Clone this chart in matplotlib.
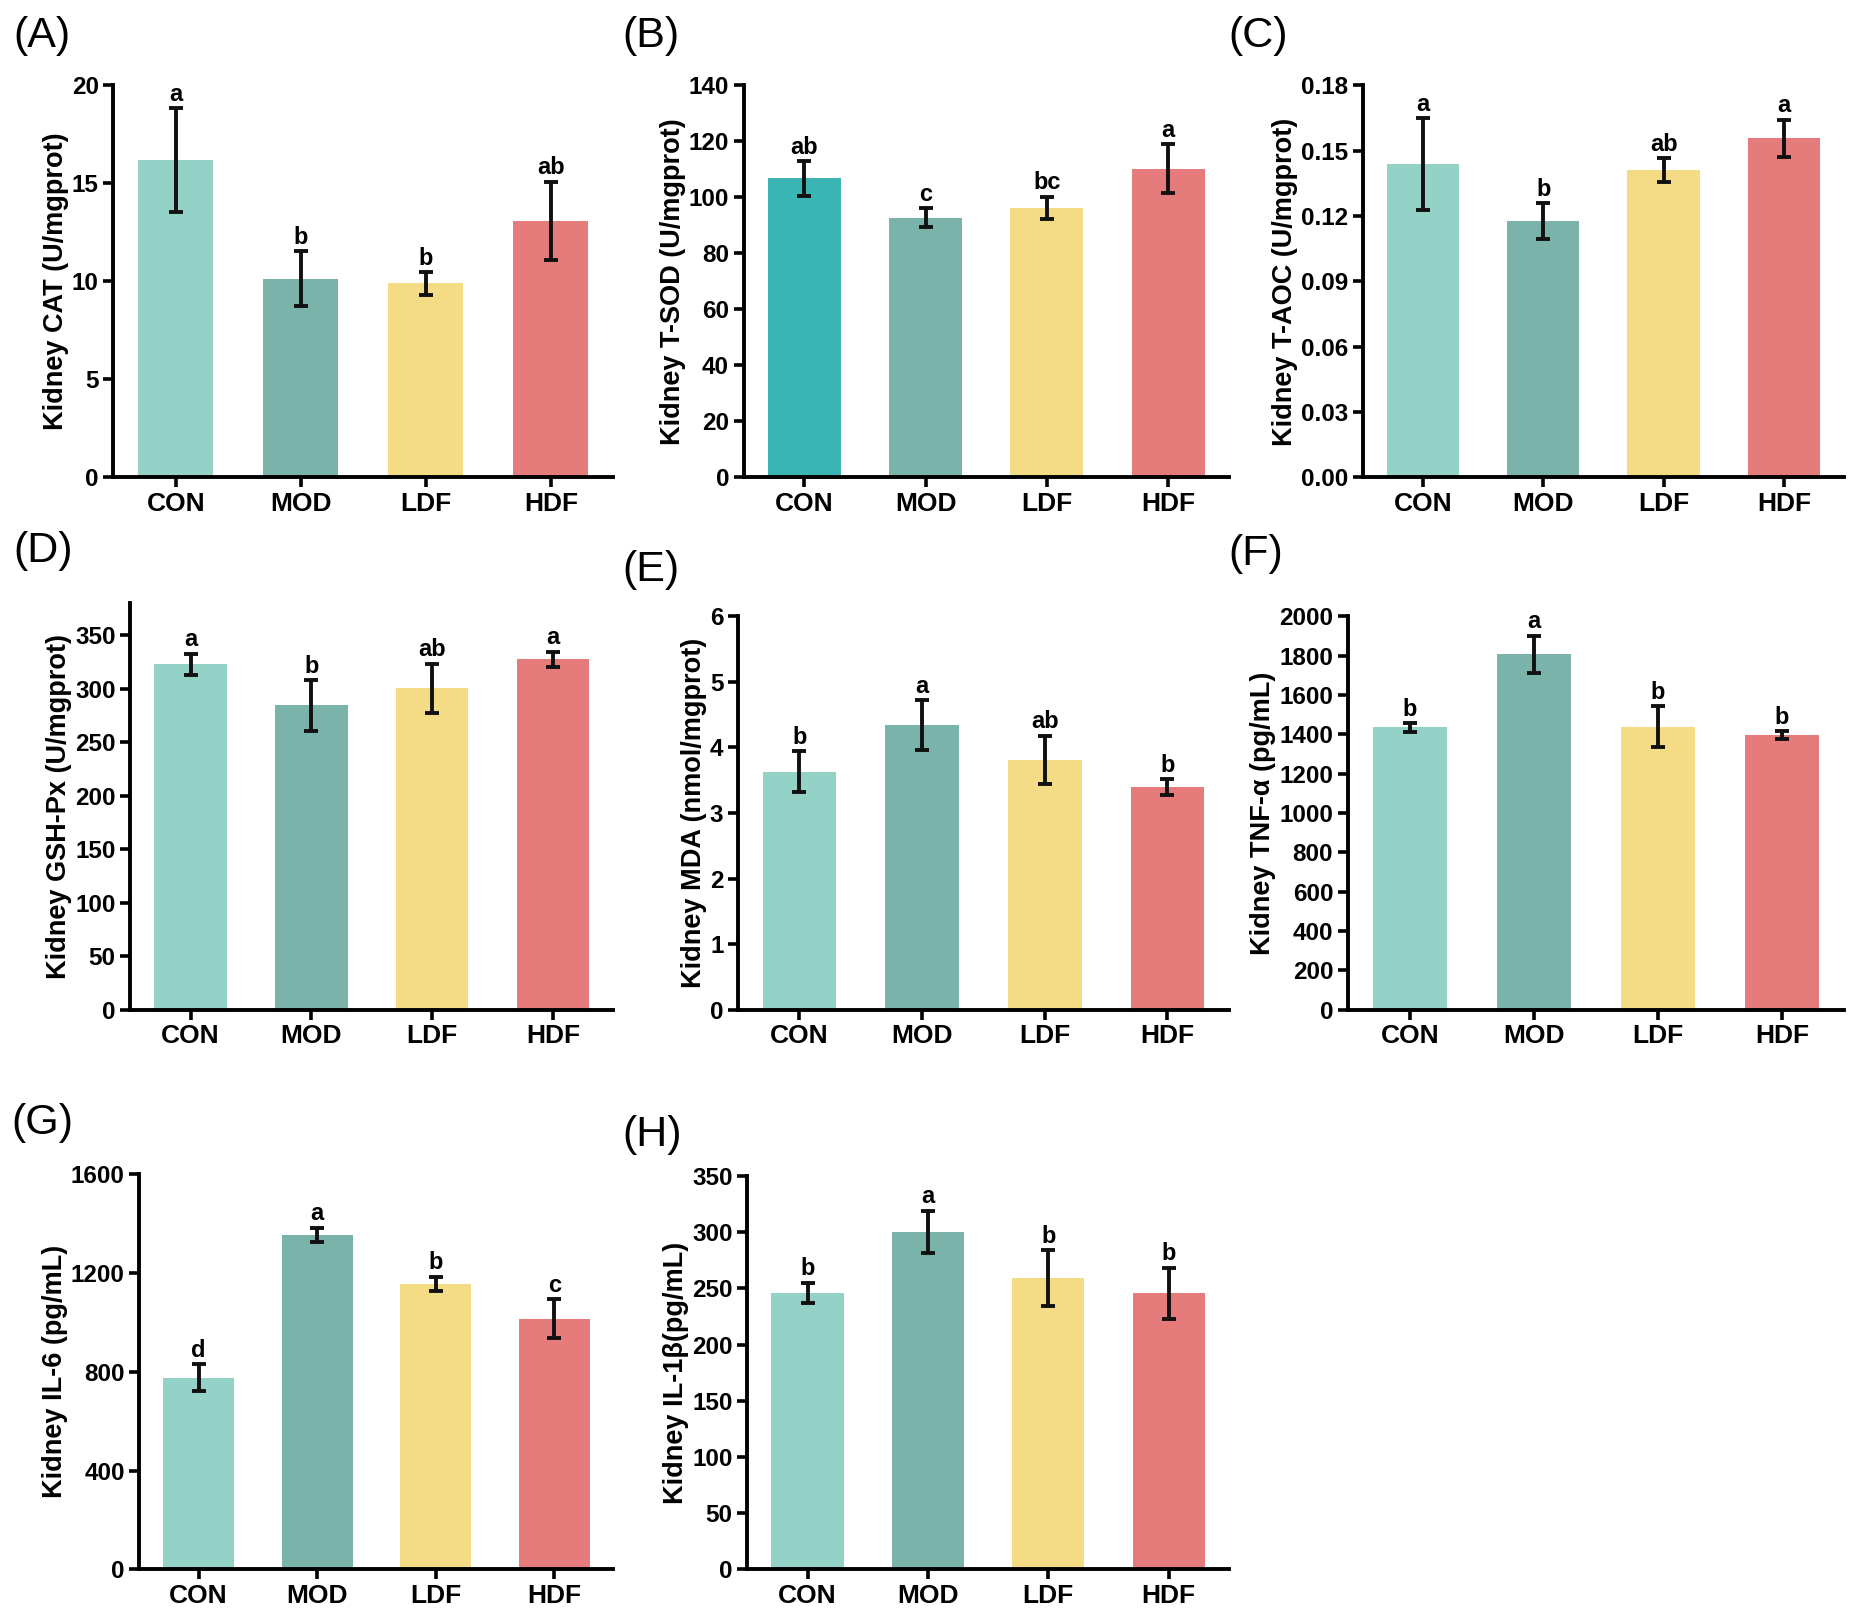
import matplotlib.pyplot as plt
import numpy as np

plt.rcParams['font.family'] = ['Liberation Sans', 'DejaVu Sans']
plt.rcParams['font.weight'] = 'bold'

groups = ['CON', 'MOD', 'LDF', 'HDF']
colors = ['#94D1C7', '#79B3AA', '#F4DC87', '#E57B7B']
colors_b = ['#3BB5B3', '#79B3AA', '#F4DC87', '#E57B7B']

# (A) CAT
cat_mean = [16.2, 10.15, 9.9, 13.1]
cat_err = [2.65, 1.4, 0.58, 2.0]
cat_sig = ['a', 'b', 'b', 'ab']

# (B) T-SOD
sod_mean = [106.8, 92.7, 96.3, 110.3]
sod_err = [6.1, 3.4, 4.0, 8.7]
sod_sig = ['ab', 'c', 'bc', 'a']

# (C) T-AOC
aoc_mean = [0.1440, 0.1178, 0.1412, 0.1558]
aoc_err = [0.0210, 0.0082, 0.0055, 0.0085]
aoc_sig = ['a', 'b', 'ab', 'a']

# (D) GSH-Px
gsh_mean = [323, 284.5, 300.5, 327.5]
gsh_err = [10, 23.5, 23, 7]
gsh_sig = ['a', 'b', 'ab', 'a']

# (E) MDA
mda_mean = [3.63, 4.34, 3.81, 3.39]
mda_err = [0.31, 0.38, 0.37, 0.12]
mda_sig = ['b', 'a', 'ab', 'b']

# (F) TNF-a
tnf_mean = [1435, 1806, 1438, 1396]
tnf_err = [22, 95, 105, 18]
tnf_sig = ['b', 'a', 'b', 'b']

# (G) IL-6
il6_mean = [777, 1355, 1157, 1015]
il6_err = [55, 28, 29, 78]
il6_sig = ['d', 'a', 'b', 'c']

# (H) IL-1b
il1b_mean = [246, 300, 259, 245.5]
il1b_err = [9, 19, 25, 23]
il1b_sig = ['b', 'a', 'b', 'b']

panels = [
    ('(A)', 'Kidney CAT (U/mgprot)', cat_mean, cat_err, cat_sig, colors, 20, np.arange(0, 21, 5), '%d'),
    ('(B)', 'Kidney T-SOD (U/mgprot)', sod_mean, sod_err, sod_sig, colors_b, 140, np.arange(0, 141, 20), '%d'),
    ('(C)', 'Kidney T-AOC (U/mgprot)', aoc_mean, aoc_err, aoc_sig, colors, 0.18, np.arange(0, 0.181, 0.03), '%.2f'),
    ('(D)', 'Kidney GSH-Px (U/mgprot)', gsh_mean, gsh_err, gsh_sig, colors, 380, np.arange(0, 351, 50), '%d'),
    ('(E)', 'Kidney MDA (nmol/mgprot)', mda_mean, mda_err, mda_sig, colors, 6, np.arange(0, 7, 1), '%d'),
    ('(F)', 'Kidney TNF-α (pg/mL)', tnf_mean, tnf_err, tnf_sig, colors, 2000, np.arange(0, 2001, 200), '%d'),
    ('(G)', 'Kidney IL-6 (pg/mL)', il6_mean, il6_err, il6_sig, colors, 1600, np.arange(0, 1601, 400), '%d'),
    ('(H)', 'Kidney IL-1β(pg/mL)', il1b_mean, il1b_err, il1b_sig, colors, 350, np.arange(0, 351, 50), '%d'),
]

# axes rectangles [left, bottom, width, height] and panel letter positions
rects = [
    [0.061, 0.704, 0.269, 0.243],
    [0.400, 0.704, 0.261, 0.243],
    [0.733, 0.704, 0.259, 0.243],
    [0.070, 0.374, 0.260, 0.252],
    [0.397, 0.374, 0.264, 0.244],
    [0.725, 0.374, 0.267, 0.244],
    [0.075, 0.027, 0.255, 0.245],
    [0.402, 0.027, 0.259, 0.244],
]
letter_pos = [(0.007, 0.990), (0.335, 0.990), (0.661, 0.990),
              (0.007, 0.671), (0.335, 0.659), (0.661, 0.669),
              (0.006, 0.316), (0.335, 0.309)]

fig = plt.figure(figsize=(18.59, 16.13), dpi=100)

for (letter, ylab, mean, err, sig, cols, ytop, yt, fmt), rect, lp in zip(panels, rects, letter_pos):
    ax = fig.add_axes(rect)
    x = np.arange(len(groups))
    ax.bar(x, mean, width=0.6, color=cols, zorder=1)
    ax.errorbar(x, mean, yerr=err, fmt='none', ecolor='#111111', elinewidth=2.8,
                capsize=5, capthick=2.8, zorder=2)
    for xi, m, e, s in zip(x, mean, err, sig):
        ax.text(xi, m + e + ytop * 0.006, s, ha='center', va='bottom',
                fontsize=17, fontweight='bold')
    ax.set_xlim(-0.5, 3.5)
    ax.set_ylim(0, ytop)
    ax.set_yticks(yt)
    ax.set_yticklabels([fmt % v for v in yt])
    ax.set_xticks(x)
    ax.set_xticklabels(groups)
    ax.set_ylabel(ylab, fontsize=19.5, fontweight='bold', labelpad=2)
    ax.spines['top'].set_visible(False)
    ax.spines['right'].set_visible(False)
    ax.spines['left'].set_linewidth(2.8)
    ax.spines['bottom'].set_linewidth(2.8)
    ax.tick_params(axis='both', width=2.6, length=7, labelsize=17.5)
    ax.tick_params(axis='x', labelsize=19)
    for t in ax.get_xticklabels() + ax.get_yticklabels():
        t.set_fontweight('bold')
    fig.text(lp[0], lp[1], letter, fontsize=31, fontweight='normal', ha='left', va='top')

plt.savefig('out.png')
